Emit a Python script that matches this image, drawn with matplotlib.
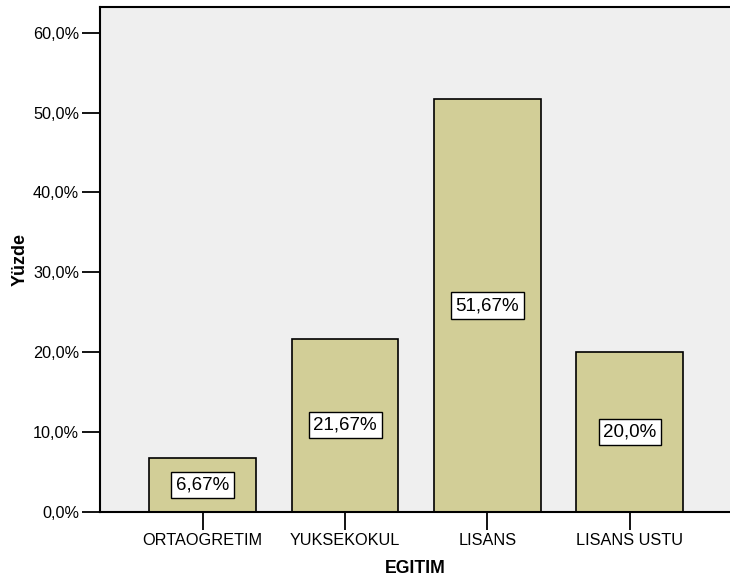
import matplotlib.pyplot as plt
import numpy as np

# veri
categories = ['ORTAOGRETIM', 'YUKSEKOKUL', 'LISANS', 'LISANS USTU']
percents = [6.67, 21.67, 51.67, 20.0]
value_labels = ['6,67%', '21,67%', '51,67%', '20,0%']
yticks = [0, 10, 20, 30, 40, 50, 60]
ytick_labels = ['0,0%', '10,0%', '20,0%', '30,0%', '40,0%', '50,0%', '60,0%']

plt.rcParams['font.family'] = ['Liberation Sans', 'DejaVu Sans']

fig = plt.figure(figsize=(7.3, 5.84), dpi=100)
ax = fig.add_axes([0.137, 0.1238, 0.863, 0.8637])
ax.set_facecolor('#EFEFEF')

x = np.arange(len(categories))
ax.bar(x, percents, width=0.75, color='#D2CE97', edgecolor='black', linewidth=1.2, zorder=2)

for xi, val, lab in zip(x, percents, value_labels):
    ax.text(xi, val / 2, lab, ha='center', va='center', fontsize=13.5, zorder=3,
            bbox=dict(boxstyle='square,pad=0.25', facecolor='white', edgecolor='black', linewidth=1))

ax.set_xlim(-0.721, 3.703)
ax.set_ylim(0, 63.2)
ax.set_xticks(x)
ax.set_xticklabels(categories, fontsize=11.7)
ax.set_yticks(yticks)
ax.set_yticklabels(ytick_labels, fontsize=11.7)
ax.tick_params(axis='both', length=13, width=1.3, direction='out', pad=2)

for s in ['left', 'bottom', 'top']:
    ax.spines[s].set_linewidth(1.5)
ax.spines['right'].set_visible(False)

ax.set_xlabel('EGITIM', fontsize=12.7, fontweight='bold', labelpad=9)
ax.set_ylabel('Yüzde', fontsize=13, fontweight='bold', labelpad=3)

plt.savefig('out.png', dpi=100)
